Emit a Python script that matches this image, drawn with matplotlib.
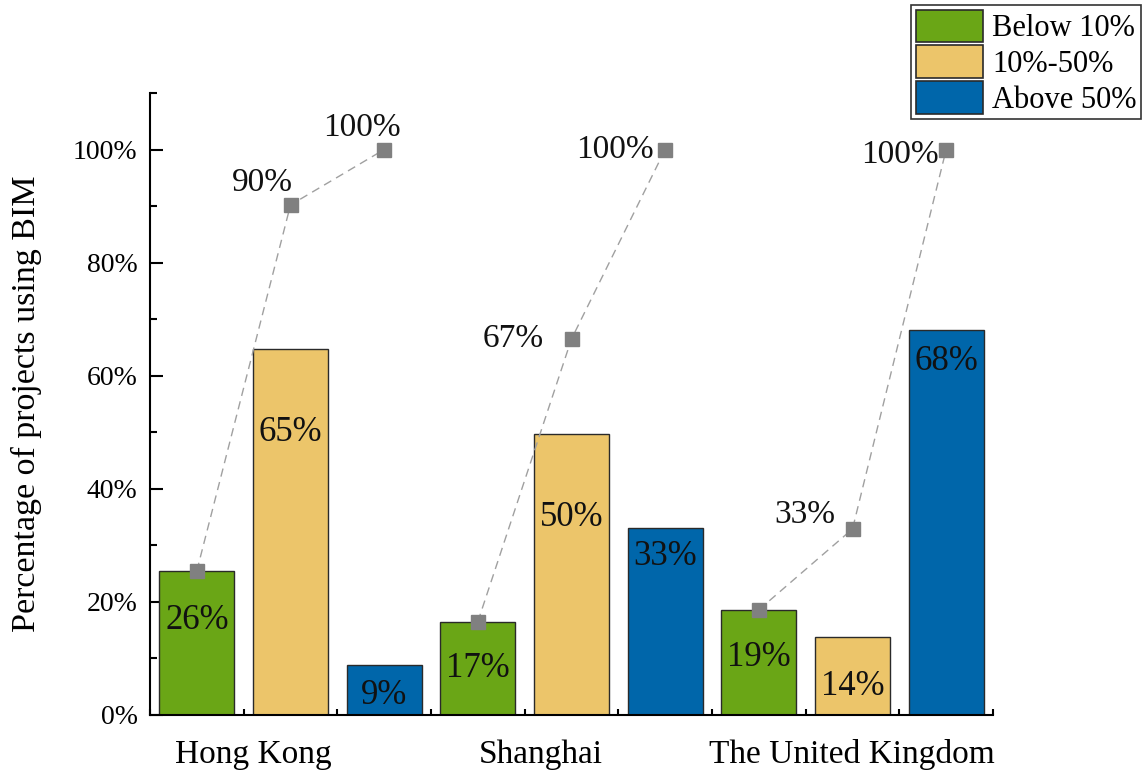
import matplotlib
matplotlib.use("Agg")
import matplotlib.pyplot as plt
from matplotlib.patches import Patch
from matplotlib.ticker import FixedLocator

plt.rcParams['font.family'] = ['Liberation Serif', 'DejaVu Serif']

# ---- data ----
regions = ["Hong Kong", "Shanghai", "The United Kingdom"]
series = ["Below 10%", "10%-50%", "Above 50%"]
hk_values = [25.5, 64.8, 8.9]
sh_values = [16.5, 49.7, 33.1]
uk_values = [18.6, 13.8, 68.0]
hk_labels = ["26%", "65%", "9%"]
sh_labels = ["17%", "50%", "33%"]
uk_labels = ["19%", "14%", "68%"]
hk_cum = [25.5, 90.2, 100.0]
sh_cum = [16.5, 66.5, 100.0]
uk_cum = [18.6, 32.9, 100.0]
hk_cum_labels = ["", "90%", "100%"]
sh_cum_labels = ["", "67%", "100%"]
uk_cum_labels = ["", "33%", "100%"]
ytick_values = [0, 20, 40, 60, 80, 100]
ytick_labels = ["0%", "20%", "40%", "60%", "80%", "100%"]

# ---- style / layout ----
colors = ["#6aa616", "#ecc56a", "#0066aa"]
bar_label_drop = [[8.7, 14.9, 5.4], [8.2, 14.7, 5.1], [8.5, 8.7, 5.5]]
cum_label_offset = [[(0, 0), (-28, 22), (-22, 22)],
                    [(0, 0), (-58, 0), (-50, 0)],
                    [(0, 0), (-48, 14), (-46, -5)]]
region_label_pos = [0.6, 3.67, 6.99]

fig = plt.figure(figsize=(11.47, 7.72), dpi=100)
ax = fig.add_axes([150/1147, 1-715/772, (993-150)/1147, (715-93)/772])

all_values = [hk_values, sh_values, uk_values]
all_labels = [hk_labels, sh_labels, uk_labels]
all_cum = [hk_cum, sh_cum, uk_cum]
all_cum_labels = [hk_cum_labels, sh_cum_labels, uk_cum_labels]

for g in range(len(regions)):
    xs = [g*3 + i for i in range(3)]
    for i, x in enumerate(xs):
        ax.bar(x, all_values[g][i], width=0.8, color=colors[i],
               edgecolor="#2a2a2a", linewidth=1.0, zorder=2)
        ax.text(x, all_values[g][i] - bar_label_drop[g][i], all_labels[g][i],
                ha="center", va="center", fontsize=25, color="#111111", zorder=4)
    ax.plot(xs, all_cum[g], linestyle=(0, (6, 4)), color="#a0a0a0", linewidth=1.0,
            marker="s", markersize=10, markerfacecolor="#808080",
            markeredgecolor="#808080", zorder=3)
    for i, x in enumerate(xs):
        if all_cum_labels[g][i]:
            dx, dy = cum_label_offset[g][i]
            ax.annotate(all_cum_labels[g][i], (x, all_cum[g][i]),
                        xytext=(dx, dy), textcoords="offset pixels",
                        ha="center", va="center", fontsize=24, color="#111111", zorder=4)

ax.set_xlim(-0.5, 8.5)
ax.set_ylim(0, 110)
ax.spines["top"].set_visible(False)
ax.spines["right"].set_visible(False)
for s in ["left", "bottom"]:
    ax.spines[s].set_linewidth(1.5)

ax.yaxis.set_major_locator(FixedLocator(ytick_values))
ax.set_yticklabels(ytick_labels, fontsize=20)
ax.yaxis.set_minor_locator(FixedLocator([10, 30, 50, 70, 90, 110]))
ax.tick_params(axis="y", which="major", direction="in", length=9, width=1.5, pad=9)
ax.tick_params(axis="y", which="minor", direction="in", length=5, width=1.5)

ax.xaxis.set_major_locator(FixedLocator(list(range(9))))
ax.xaxis.set_minor_locator(FixedLocator([i - 0.5 for i in range(10)]))
ax.set_xticklabels([""] * 9)
ax.tick_params(axis="x", which="major", direction="in", length=8, width=1.5)
ax.tick_params(axis="x", which="minor", direction="in", length=4, width=1.5)

for name, xp in zip(regions, region_label_pos):
    ax.text(xp, -7, name, ha="center", va="center", fontsize=24,
            transform=ax.transData, clip_on=False)

ax.set_ylabel("Percentage of projects using BIM", fontsize=24.5, labelpad=22)

handles = [Patch(facecolor=c, edgecolor="#2a2a2a", linewidth=1.2) for c in colors]
leg = fig.legend(handles, series, loc="upper right",
                 bbox_to_anchor=(1141/1147, 1-5/772), borderaxespad=0,
                 fontsize=22, frameon=True, fancybox=False, framealpha=1,
                 edgecolor="#333333", handlelength=2.2, handleheight=1.25,
                 labelspacing=0.08, borderpad=0.15, handletextpad=0.3)
leg.get_frame().set_linewidth(1.2)

fig.savefig("out.png", dpi=100)
